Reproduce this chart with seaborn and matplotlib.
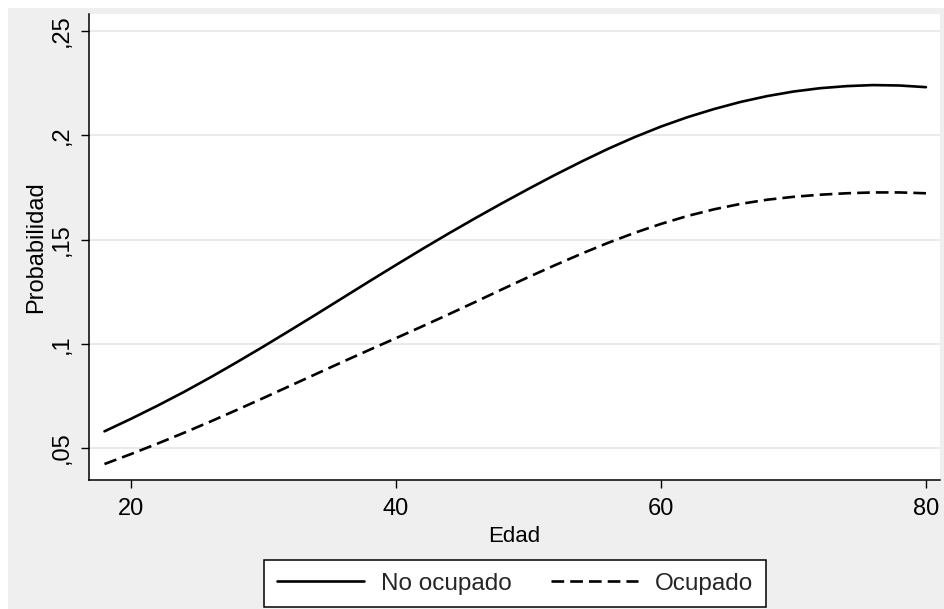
import matplotlib
matplotlib.use("Agg")
import matplotlib.pyplot as plt
from matplotlib.patches import Rectangle
import pandas as pd
import seaborn as sns

# Predicted probability by age, for the two employment groups
edad = [18, 20, 22, 24, 26, 28, 30, 32, 34, 36, 38, 40, 42, 44, 46, 48, 50,
        52, 54, 56, 58, 60, 62, 64, 66, 68, 70, 72, 74, 76, 78, 80]
no_ocupado = [0.0580, 0.0640, 0.0703, 0.0769, 0.0839, 0.0912, 0.0987, 0.1064,
              0.1142, 0.1221, 0.1300, 0.1378, 0.1455, 0.1530, 0.1603, 0.1674,
              0.1743, 0.1810, 0.1874, 0.1935, 0.1991, 0.2042, 0.2087, 0.2126,
              0.2160, 0.2188, 0.2210, 0.2226, 0.2236, 0.2241, 0.2239, 0.2231]
ocupado = [0.0423, 0.0471, 0.0521, 0.0573, 0.0627, 0.0683, 0.0740, 0.0798,
           0.0856, 0.0914, 0.0971, 0.1027, 0.1084, 0.1142, 0.1201, 0.1261,
           0.1320, 0.1377, 0.1432, 0.1484, 0.1532, 0.1575, 0.1613, 0.1645,
           0.1671, 0.1691, 0.1705, 0.1715, 0.1722, 0.1726, 0.1726, 0.1722]
grupos = ["No ocupado", "Ocupado"]

y_ticks = [0.05, 0.10, 0.15, 0.20, 0.25]
y_tick_labels = [",05", ",1", ",15", ",2", ",25"]
x_ticks = [20, 40, 60, 80]
x_tick_labels = ["20", "40", "60", "80"]

df = pd.DataFrame({
    "Edad": edad * 2,
    "Probabilidad": no_ocupado + ocupado,
    "Grupo": [grupos[0]] * len(edad) + [grupos[1]] * len(edad),
})

sns.set_theme(style="white")
plt.rcParams["font.family"] = ["Liberation Sans", "DejaVu Sans"]

W, H = 945, 609
fig = plt.figure(figsize=(W / 100, H / 100), dpi=100)
fig.patch.set_facecolor("#EFEFEF")
# thin white margins along the top and left edges
fig.patches.append(Rectangle((0, 1 - 8 / H), 1, 8 / H, transform=fig.transFigure,
                             facecolor="white", edgecolor="none", zorder=0))
fig.patches.append(Rectangle((0, 0), 8 / W, 1, transform=fig.transFigure,
                             facecolor="white", edgecolor="none", zorder=0))

left, right, top, bottom = 89, 940, 14, 480
ax = fig.add_axes([left / W, (H - bottom) / H, (right - left) / W, (bottom - top) / H])
ax.set_facecolor("white")

sns.lineplot(data=df, x="Edad", y="Probabilidad", hue="Grupo", style="Grupo",
             palette={grupos[0]: "black", grupos[1]: "black"},
             dashes={grupos[0]: "", grupos[1]: (4.8, 2.3)},
             linewidth=1.9, ax=ax, legend=True)

ax.set_xlim(16.83, 81.06)
ax.set_ylim(0.03465, 0.2582)

ax.set_yticks(y_ticks)
ax.set_yticklabels(y_tick_labels, rotation=90, va="center")
ax.set_xticks(x_ticks)
ax.set_xticklabels(x_tick_labels)

ax.grid(axis="y", color="#E8E8E8", linewidth=1.3)
ax.grid(axis="x", visible=False)
ax.set_axisbelow(True)

for side in ["top", "right"]:
    ax.spines[side].set_visible(False)
for side in ["left", "bottom"]:
    ax.spines[side].set_color("black")
    ax.spines[side].set_linewidth(1.1)

ax.tick_params(axis="both", which="major", direction="out", length=6, width=1.0,
               color="black", labelsize=17, labelcolor="black",
               left=True, bottom=True)
ax.tick_params(axis="y", pad=6)
ax.tick_params(axis="x", pad=7)

ax.set_xlabel("Edad", fontsize=16, color="black", labelpad=4)
ax.set_ylabel("Probabilidad", fontsize=17, color="black", labelpad=2)

handles, labels = ax.get_legend_handles_labels()
leg = ax.legend(handles, labels, ncol=2, loc="center",
                bbox_to_anchor=(515 / W, 1 - 583.5 / H), bbox_transform=fig.transFigure,
                fontsize=17.5, frameon=True, fancybox=False, framealpha=1,
                edgecolor="black", facecolor="white", handlelength=3.6,
                handletextpad=0.7, columnspacing=1.6, borderpad=0.5)
leg.get_frame().set_linewidth(1.1)

fig.savefig("out.png", dpi=100, facecolor=fig.get_facecolor())
